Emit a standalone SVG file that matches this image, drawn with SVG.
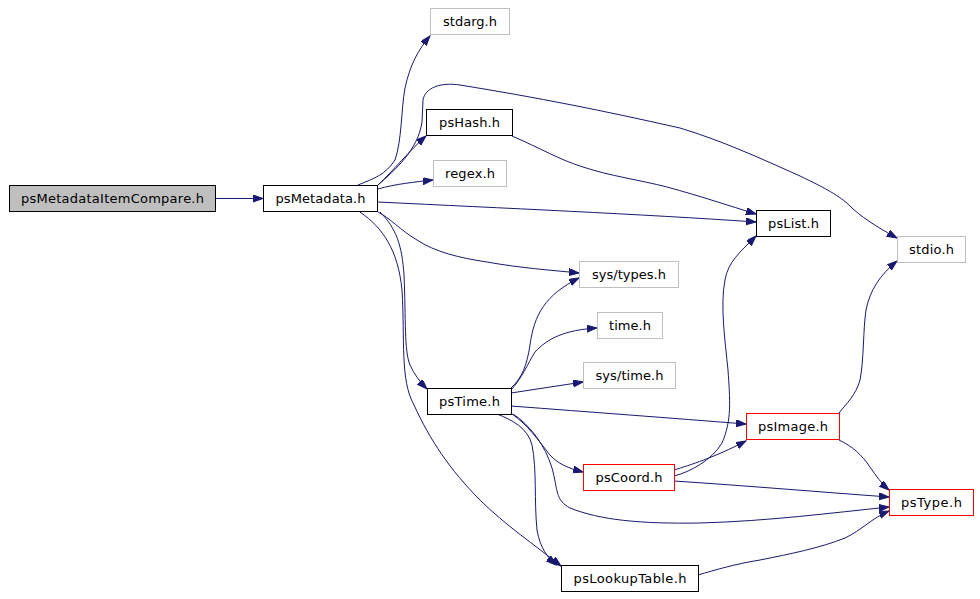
<svg xmlns="http://www.w3.org/2000/svg" width="980" height="599" viewBox="0 0 980 599">
<style>
.n rect{fill:#ffffff;stroke:#000000;stroke-width:1}
.n.root rect{fill:#bfbfbf}
.n.ext rect{stroke:#bfbfbf}
.n.red rect{stroke:#ff0000}
.n text{font-family:"DejaVu Sans","Liberation Sans",sans-serif;font-size:13px;fill:#000000;text-anchor:middle}
.e path{fill:none;stroke:#191970;stroke-width:1;marker-end:url(#ah)}
</style>
<defs>
<marker id="ah" markerUnits="userSpaceOnUse" markerWidth="11" markerHeight="8" refX="10" refY="3.5" orient="auto">
<path d="M0,0 L10,3.5 L0,7 z" fill="#191970" stroke="#191970" stroke-width="1"/>
</marker>
</defs>
<rect x="0" y="0" width="980" height="599" fill="#ffffff"/>
<g id="edges" class="e">
<path d="M215,198.5 L263,198.5"/>
<path d="M358,185 C375,178 385,175 395,160 C402,140 401,110 405,88 C410,65 418,50 430,36"/>
<path d="M378,185 C392,172 410,150 426,136"/>
<path d="M378,185 C395,170 418,150 422,122 L423,100 C425,88 440,82 460,85 C540,98 600,110 680,128 C720,140 760,158 800,176 C825,188 840,196 850,206 C860,216 875,226 897,238"/>
<path d="M378,189 C395,184 415,182 433,180"/>
<path d="M378,202 C500,208 640,214 756,222"/>
<path d="M512,136 C540,148 560,160 583,167 C610,176 640,180 667,187 C700,196 730,206 756,214"/>
<path d="M378,212 C390,218 400,230 417,240 C435,252 460,258 487,262 C520,268 550,270 579,273"/>
<path d="M380,212 C396,228 402,245 404,275 C406,320 404,350 410,365 C414,374 420,382 427,389"/>
<path d="M360,212 C383,228 398,250 402,290 C405,340 400,380 414,405 C430,440 450,470 480,500 C505,525 535,545 561,566"/>
<path d="M511,388 C522,378 527,365 530,345 C534,315 545,295 579,278"/>
<path d="M511,390 C522,378 527,365 535,352 C548,338 565,330 597,328"/>
<path d="M511,393 L583,382"/>
<path d="M511,406 C590,412 670,418 746,424"/>
<path d="M512,414 C528,425 538,440 550,455 C558,464 568,468 583,472"/>
<path d="M513,414 C530,425 545,445 552,468 C558,490 555,500 570,508 C600,520 640,524 700,523 C770,521 830,513 889,507"/>
<path d="M497,414 C512,420 528,428 532,445 C537,470 534,500 537,530 C540,548 548,558 556,565"/>
<path d="M674,470 C690,465 713,458 746,441"/>
<path d="M674,476 C690,472 712,460 722,443 C732,420 730,400 728,370 C725,340 720,305 725,280 C728,262 740,252 756,236"/>
<path d="M674,481 C750,486 820,492 889,497"/>
<path d="M839,440 C852,446 862,455 870,467 C876,476 882,484 889,490"/>
<path d="M839,413 C846,404 856,395 860,380 C864,360 863,330 866,310 C870,290 880,275 897,261"/>
<path d="M698,575 C715,570 735,564 760,560 C790,554 820,548 845,538 C862,530 872,518 889,511"/>
</g>
<g id="n_root" class="n root"><rect x="9.5" y="185.5" width="206" height="26"/><text x="112.5" y="203" textLength="183" lengthAdjust="spacing">psMetadataItemCompare.h</text></g>
<g id="n_psMetadata" class="n"><rect x="263.5" y="185.5" width="114" height="26"/><text x="320.5" y="203" textLength="90" lengthAdjust="spacing">psMetadata.h</text></g>
<g id="n_stdarg" class="n ext"><rect x="430.5" y="8.5" width="79" height="26"/><text x="470" y="26" textLength="54" lengthAdjust="spacing">stdarg.h</text></g>
<g id="n_psHash" class="n"><rect x="426.5" y="109.5" width="86" height="26"/><text x="469.5" y="127" textLength="61" lengthAdjust="spacing">psHash.h</text></g>
<g id="n_regex" class="n ext"><rect x="433.5" y="160.5" width="73" height="26"/><text x="470" y="178" textLength="50" lengthAdjust="spacing">regex.h</text></g>
<g id="n_psList" class="n"><rect x="756.5" y="210.5" width="74" height="26"/><text x="793.5" y="228" textLength="51" lengthAdjust="spacing">psList.h</text></g>
<g id="n_stdio" class="n ext"><rect x="897.5" y="236.5" width="68" height="26"/><text x="931.5" y="254" textLength="45" lengthAdjust="spacing">stdio.h</text></g>
<g id="n_systypes" class="n ext"><rect x="579.5" y="261.5" width="99" height="26"/><text x="629" y="279" textLength="74" lengthAdjust="spacing">sys/types.h</text></g>
<g id="n_time" class="n ext"><rect x="597.5" y="312.5" width="65" height="26"/><text x="630" y="330" textLength="42" lengthAdjust="spacing">time.h</text></g>
<g id="n_systime" class="n ext"><rect x="583.5" y="362.5" width="92" height="26"/><text x="629.5" y="380" textLength="68" lengthAdjust="spacing">sys/time.h</text></g>
<g id="n_psTime" class="n"><rect x="427.5" y="388.5" width="84" height="26"/><text x="469.5" y="406" textLength="61" lengthAdjust="spacing">psTime.h</text></g>
<g id="n_psImage" class="n red"><rect x="746.5" y="413.5" width="93" height="26"/><text x="793" y="431" textLength="70" lengthAdjust="spacing">psImage.h</text></g>
<g id="n_psCoord" class="n red"><rect x="583.5" y="464.5" width="91" height="26"/><text x="629" y="482" textLength="67" lengthAdjust="spacing">psCoord.h</text></g>
<g id="n_psType" class="n red"><rect x="889.5" y="489.5" width="84" height="26"/><text x="931.5" y="507" textLength="61" lengthAdjust="spacing">psType.h</text></g>
<g id="n_psLookupTable" class="n"><rect x="561.5" y="565.5" width="137" height="26"/><text x="630" y="583" textLength="113" lengthAdjust="spacing">psLookupTable.h</text></g>
</svg>
